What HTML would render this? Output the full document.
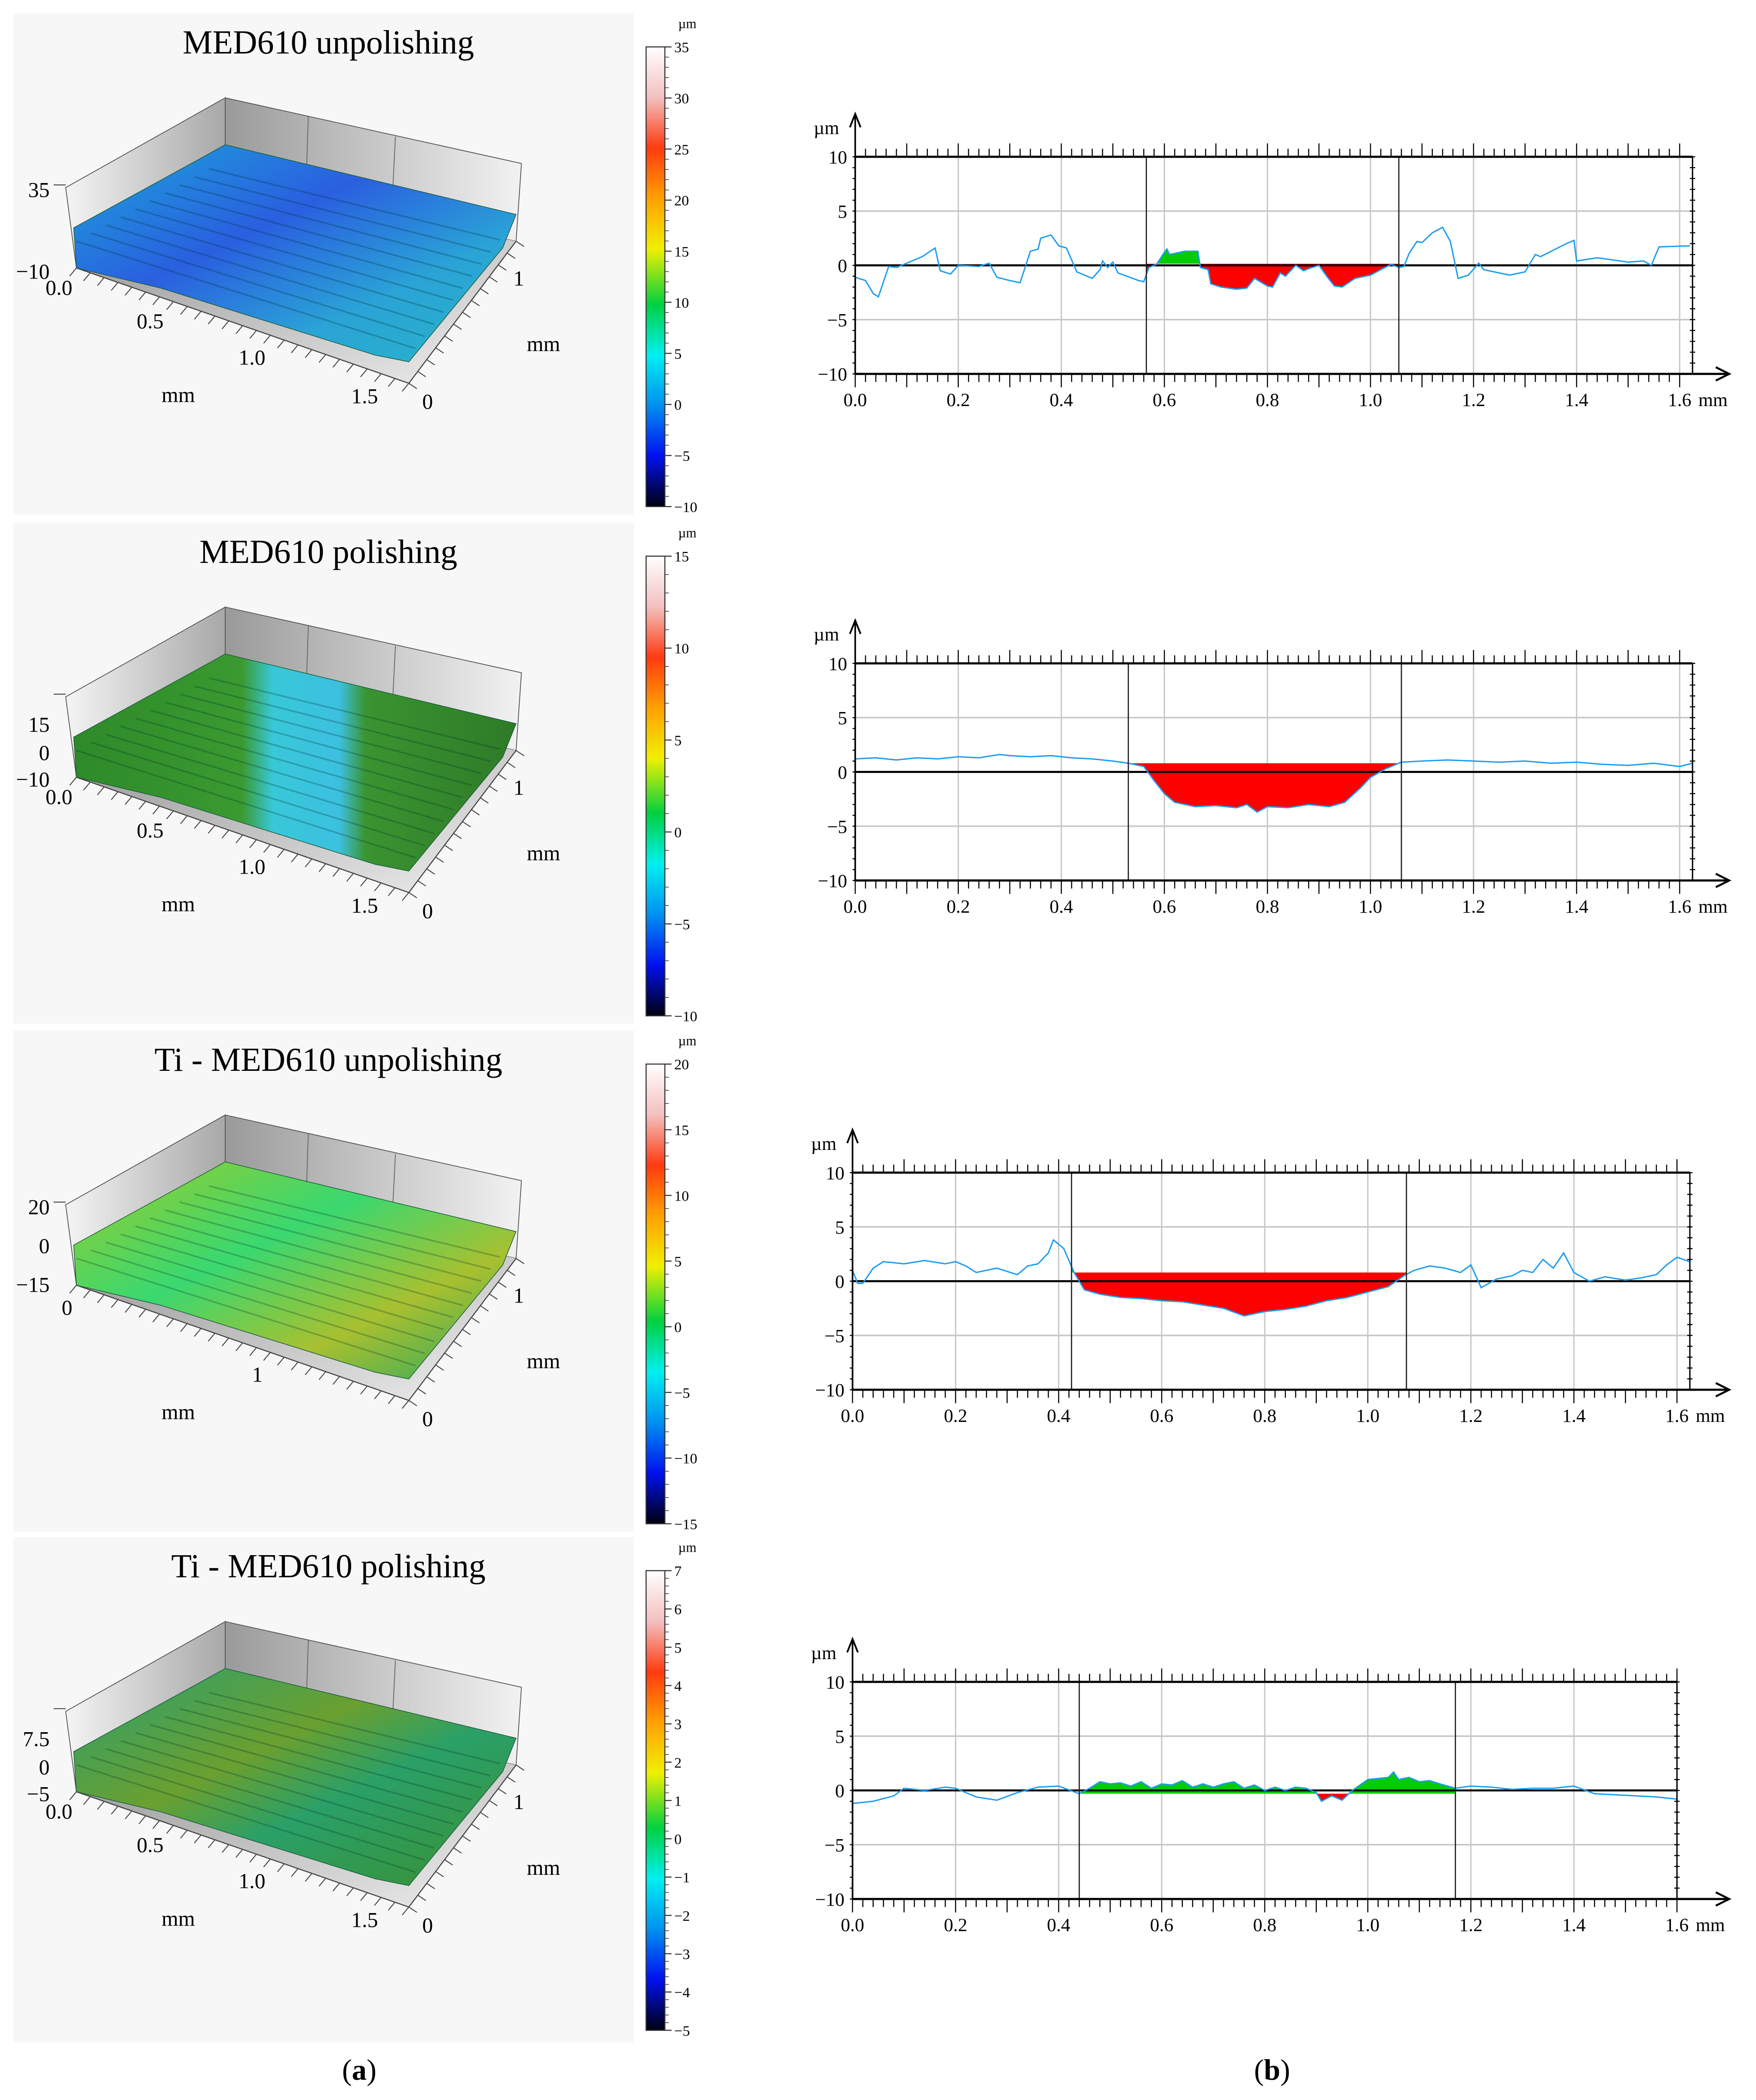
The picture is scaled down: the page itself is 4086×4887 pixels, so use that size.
<!DOCTYPE html>
<html><head><meta charset="utf-8"><style>
html,body{margin:0;padding:0;background:#fff}
svg{display:block}
text{font-family:"Liberation Serif",serif}
</style></head><body>
<svg id="fig" xmlns="http://www.w3.org/2000/svg" width="4086" height="4887" viewBox="0 0 1310 1567" preserveAspectRatio="none">
<defs>
<linearGradient id="wallL" x1="0" y1="0" x2="1" y2="0"><stop offset="0" stop-color="#f4f4f4"/><stop offset="1" stop-color="#a8a8a8"/></linearGradient>
<linearGradient id="wallB" x1="0" y1="0" x2="1" y2="0"><stop offset="0" stop-color="#9a9a9a"/><stop offset="1" stop-color="#f2f2f2"/></linearGradient>
<linearGradient id="floor" x1="0" y1="0" x2="1" y2="1"><stop offset="0" stop-color="#8a8a8a"/><stop offset="1" stop-color="#f0f0f0"/></linearGradient>
<linearGradient id="s1" x1="0" y1="0" x2="1" y2="1"><stop offset="0" stop-color="#1ba6d8"/><stop offset="0.4" stop-color="#2a5fe0"/><stop offset="0.7" stop-color="#2aa3d6"/><stop offset="1" stop-color="#27b6c8"/></linearGradient>
<linearGradient id="s2" x1="0" y1="0" x2="1" y2="0"><stop offset="0" stop-color="#2e8a2a"/><stop offset="0.38" stop-color="#3a9a30"/><stop offset="0.45" stop-color="#38c8d8"/><stop offset="0.6" stop-color="#3cc0e0"/><stop offset="0.66" stop-color="#3a9430"/><stop offset="1" stop-color="#2e7a28"/></linearGradient>
<linearGradient id="s3" x1="0" y1="0" x2="1" y2="1"><stop offset="0" stop-color="#9ccc2a"/><stop offset="0.4" stop-color="#3ad870"/><stop offset="0.7" stop-color="#a8c030"/><stop offset="1" stop-color="#2aa860"/></linearGradient>
<linearGradient id="s4" x1="0" y1="0" x2="1" y2="1"><stop offset="0" stop-color="#2aa070"/><stop offset="0.4" stop-color="#6aa030"/><stop offset="0.6" stop-color="#2aa068"/><stop offset="1" stop-color="#3a9030"/></linearGradient>
<linearGradient id="cb1" x1="0" y1="0" x2="0" y2="1"><stop offset="0" stop-color="#ffffff"/><stop offset="0.11" stop-color="#f3c0c0"/><stop offset="0.22" stop-color="#ff3a10"/><stop offset="0.33" stop-color="#ffa000"/><stop offset="0.44" stop-color="#f0f000"/><stop offset="0.56" stop-color="#00d040"/><stop offset="0.67" stop-color="#00f0f0"/><stop offset="0.78" stop-color="#0090f0"/><stop offset="0.89" stop-color="#0010f0"/><stop offset="1" stop-color="#000010"/></linearGradient>
</defs>
<g id="left"></g>
<g id="right"></g>
<text x="268" y="1552" font-size="22" text-anchor="middle">(<tspan font-weight="bold">a</tspan>)</text>
<text x="949" y="1552" font-size="22" text-anchor="middle">(<tspan font-weight="bold">b</tspan>)</text>
</svg>
<script>
const NS="http://www.w3.org/2000/svg";
function el(tag,attrs,parent,txt){const e=document.createElementNS(NS,tag);for(const k in attrs)e.setAttribute(k,attrs[k]);if(txt!==undefined)e.textContent=txt;parent.appendChild(e);return e;}

// ---------- Profile data (x in mm, z in µm) ----------
const prof1X=[0,0.02,0.035,0.045,0.055,0.065,0.08,0.1,0.13,0.155,0.165,0.185,0.2,0.24,0.26,0.275,0.3,0.32,0.34,0.355,0.36,0.38,0.395,0.41,0.43,0.45,0.46,0.475,0.48,0.49,0.5,0.51,0.55,0.56,0.57,0.585,0.6,0.605,0.61,0.64,0.665,0.67,0.685,0.69,0.71,0.74,0.76,0.775,0.8,0.81,0.825,0.835,0.855,0.87,0.88,0.9,0.915,0.93,0.945,0.97,1.0,1.04,1.055,1.065,1.075,1.09,1.1,1.12,1.14,1.155,1.17,1.19,1.21,1.22,1.27,1.3,1.32,1.33,1.38,1.395,1.4,1.44,1.47,1.5,1.53,1.545,1.56,1.62];
const prof1Z=[-1.1,-1.4,-2.6,-2.9,-1.5,-0.1,-0.2,0.2,0.8,1.6,-0.5,-0.8,0,-0.1,0.2,-1.1,-1.4,-1.6,1.3,1.5,2.5,2.8,1.8,1.6,-0.6,-1.0,-1.2,-0.4,0.4,-0.2,0.3,-0.7,-1.4,-1.5,-0.2,0.1,1.2,1.5,1.0,1.3,1.3,-0.2,-0.4,-1.7,-2.0,-2.2,-2.1,-1.2,-1.9,-2.0,-0.7,-1.0,0,-0.5,-0.3,0,-1.0,-1.9,-2.0,-1.2,-0.9,0.1,-0.2,-0.1,1.1,2.2,2.1,3.0,3.5,2.2,-1.2,-0.9,0.2,-0.4,-0.9,-0.6,1.0,0.8,2.0,2.3,0.4,0.7,0.5,0.3,0.4,0,1.7,1.8];
const prof2X=[0,0.04,0.08,0.12,0.16,0.2,0.24,0.28,0.3,0.34,0.38,0.42,0.46,0.5,0.53,0.56,0.58,0.6,0.62,0.66,0.7,0.74,0.76,0.78,0.8,0.84,0.88,0.92,0.95,0.98,1.0,1.03,1.06,1.1,1.15,1.2,1.25,1.3,1.35,1.4,1.45,1.5,1.55,1.6,1.625];
const prof2Z=[1.2,1.3,1.1,1.3,1.2,1.4,1.3,1.6,1.5,1.4,1.5,1.3,1.2,1.0,0.8,0.5,-0.8,-2.0,-2.8,-3.2,-3.1,-3.3,-3.0,-3.7,-3.2,-3.3,-3.0,-3.2,-2.8,-1.5,-0.5,0.3,0.9,1.0,1.1,1.0,0.9,1.0,0.8,0.9,0.7,0.6,0.8,0.5,0.8];
const prof3X=[0,0.01,0.02,0.04,0.06,0.1,0.14,0.18,0.2,0.22,0.24,0.28,0.32,0.34,0.36,0.38,0.39,0.41,0.43,0.45,0.48,0.52,0.56,0.6,0.64,0.68,0.72,0.76,0.8,0.84,0.88,0.92,0.96,1.0,1.04,1.07,1.09,1.12,1.15,1.18,1.2,1.22,1.25,1.28,1.3,1.32,1.34,1.36,1.38,1.4,1.43,1.46,1.5,1.53,1.56,1.58,1.6,1.625];
const prof3Z=[1.0,-0.2,-0.2,1.2,1.8,1.6,1.9,1.6,1.8,1.4,0.8,1.2,0.6,1.4,1.6,2.6,3.8,3.0,0.8,-0.8,-1.2,-1.5,-1.6,-1.8,-1.9,-2.2,-2.5,-3.2,-2.8,-2.6,-2.3,-1.8,-1.5,-1.0,-0.5,0.5,1.0,1.4,1.2,0.8,1.5,-0.6,0.2,0.5,1.0,0.8,2.0,1.2,2.6,0.8,0.0,0.4,0.1,0.3,0.6,1.5,2.2,1.8];
const prof4X=[0,0.04,0.08,0.1,0.14,0.18,0.2,0.24,0.28,0.32,0.36,0.4,0.44,0.46,0.48,0.5,0.52,0.54,0.56,0.58,0.6,0.62,0.64,0.66,0.68,0.7,0.72,0.74,0.76,0.78,0.8,0.82,0.84,0.86,0.88,0.9,0.91,0.93,0.95,0.97,1.0,1.02,1.04,1.05,1.06,1.08,1.1,1.12,1.14,1.17,1.2,1.24,1.28,1.32,1.36,1.4,1.44,1.48,1.52,1.56,1.6];
const prof4Z=[-1.2,-1.0,-0.5,0.2,0.0,0.3,0.2,-0.6,-0.9,-0.2,0.3,0.4,-0.3,0.2,0.8,0.6,0.7,0.4,0.8,0.2,0.6,0.5,0.9,0.3,0.6,0.3,0.6,0.8,0.2,0.5,0.0,0.3,0.0,0.3,0.2,-0.2,-1.0,-0.5,-0.9,0.0,1.0,1.1,1.2,1.7,1.0,1.2,0.8,0.9,0.6,0.2,0.4,0.3,0.1,0.2,0.2,0.4,-0.3,-0.4,-0.5,-0.6,-0.8];
const xTicks=["0.0","0.2","0.4","0.6","0.8","1.0","1.2","1.4","1.6"];
const yTicks=[10,5,0,-5,-10];

const charts=[
 {top:117,x0:638,xs:prof1X,zs:prof1Z,m:[0.565,1.055],ref:0.15,xend:1.625},
 {top:495,x0:638,xs:prof2X,zs:prof2Z,m:[0.53,1.06],ref:0.8,xend:1.625},
 {top:875,x0:636,xs:prof3X,zs:prof3Z,m:[0.425,1.075],ref:0.8,xend:1.625},
 {top:1255,x0:636,xs:prof4X,zs:prof4Z,m:[0.44,1.17],ref:-0.3,xend:1.6}
];
const R=document.getElementById('right');
charts.forEach((c,ci)=>{
 const g=el('g',{},R);
 
 
 const PX=384.4, H=162;
 const X=v=>c.x0+v*PX, Y=v=>c.top+(10-v)*H/20;
 // grid
 for(let i=1;i<=8;i++){el('line',{x1:X(i*0.2),x2:X(i*0.2),y1:Y(10),y2:Y(-10),stroke:'#c8c8c8','stroke-width':1},g);}
 [5,-5].forEach(v=>el('line',{x1:X(0),x2:X(c.xend),y1:Y(v),y2:Y(v),stroke:'#c8c8c8','stroke-width':1.2},g));
 // fills
 const id='clip'+ci;
 const cp=el('clipPath',{id:id},g);
 el('rect',{x:X(c.m[0]),y:Y(10),width:X(c.m[1])-X(c.m[0]),height:H},cp);
 let pts=c.xs.map((x,i)=>X(x)+','+Y(c.zs[i])).join(' ');
 const poly=X(c.xs[0])+','+Y(c.ref)+' '+pts+' '+X(c.xs[c.xs.length-1])+','+Y(c.ref);
 const ga=el('clipPath',{id:id+'a'},g);el('rect',{x:X(c.m[0]),y:Y(10),width:X(c.m[1])-X(c.m[0]),height:Y(c.ref)-Y(10)},ga);
 const gb=el('clipPath',{id:id+'b'},g);el('rect',{x:X(c.m[0]),y:Y(c.ref),width:X(c.m[1])-X(c.m[0]),height:Y(-10)-Y(c.ref)},gb);
 const fa=el('polygon',{points:poly,fill:'#00cc00','clip-path':'url(#'+id+'a)'},g);
 
 
 const fb=el('polygon',{points:poly,fill:'#ff0000','clip-path':'url(#'+id+'b)'},g);
 
 
 // zero line
 el('line',{x1:X(0),x2:X(c.xend),y1:Y(0),y2:Y(0),stroke:'#000','stroke-width':1.5},g);
 // profile line
 const pl=el('polyline',{points:pts,fill:'none',stroke:'#1a9cf0','stroke-width':1},g);
 
 
 // markers
 c.m.forEach(v=>{const l=el('line',{x1:X(v),x2:X(v),y1:Y(10),y2:Y(-10),stroke:'#222','stroke-width':0.9},g);
  
  });
 // frame
 el('line',{x1:X(0),x2:X(c.xend),y1:Y(10),y2:Y(10),stroke:'#000','stroke-width':1.6},g);
 el('line',{x1:X(c.xend),x2:X(c.xend),y1:Y(10),y2:Y(-10),stroke:'#000','stroke-width':1},g);
 el('line',{x1:X(0),x2:X(0),y1:Y(10)-30,y2:Y(-10),stroke:'#000','stroke-width':1.2},g);
 el('line',{x1:X(0),x2:1288,y1:Y(-10),y2:Y(-10),stroke:'#000','stroke-width':1.6},g);
 el('polyline',{points:(1280)+','+(Y(-10)-5)+' 1290,'+Y(-10)+' 1280,'+(Y(-10)+5),fill:'none',stroke:'#000','stroke-width':1.5},g);
 el('polyline',{points:(X(0)-4)+','+(Y(10)-22)+' '+X(0)+','+(Y(10)-32)+' '+(X(0)+4)+','+(Y(10)-22),fill:'none',stroke:'#000','stroke-width':1.3},g);
 // ticks
 for(let i=0;i<=80;i++){const v=i*0.02;if(v>c.xend)break;const L=(i%5==0)?10:6;
  el('line',{x1:X(v),x2:X(v),y1:Y(-10),y2:Y(-10)+L,stroke:'#000','stroke-width':0.8},g);
  el('line',{x1:X(v),x2:X(v),y1:Y(10),y2:Y(10)-L,stroke:'#000','stroke-width':0.8},g);}
 for(let v=-10;v<=10;v++){el('line',{x1:X(c.xend)-2,x2:X(c.xend)+2,y1:Y(v),y2:Y(v),stroke:'#000','stroke-width':0.8},g);
  el('line',{x1:X(0)-2,x2:X(0),y1:Y(v),y2:Y(v),stroke:'#000','stroke-width':0.8},g);}
 xTicks.forEach((t,i)=>el('text',{x:X(i*0.2),y:Y(-10)+24,'font-size':14,'text-anchor':'middle'},g,t));
 el('text',{x:X(1.6)+14,y:Y(-10)+24,'font-size':14},g,'mm');
 yTicks.forEach(v=>el('text',{x:X(0)-6,y:Y(v)+5,'font-size':14,'text-anchor':'end'},g,v<0?'−'+(-v):''+v));
 el('text',{x:X(0)-12,y:Y(10)-17,'font-size':14,'text-anchor':'end'},g,'µm');
});

// ---------- Left 3D panels ----------
const panels=[
 {top:10,title:'MED610 unpolishing',surf:'url(#s1)',cb:["35","30","25","20","15","10","5","0","−5","−10"],z:["35","−10"],xl:["0.0","0.5","1.0","1.5"]},
 {top:390,title:'MED610 polishing',surf:'url(#s2)',cb:["15","10","5","0","−5","−10"],z:["15","0","−10"],xl:["0.0","0.5","1.0","1.5"]},
 {top:769,title:'Ti - MED610 unpolishing',surf:'url(#s3)',cb:["20","15","10","5","0","−5","−10","−15"],z:["20","0","−15"],xl:["0","1"]},
 {top:1147,title:'Ti - MED610 polishing',surf:'url(#s4)',cb:["7","6","5","4","3","2","1","0","−1","−2","−3","−4","−5"],z:["7.5","0","−5"],xl:["0.0","0.5","1.0","1.5"]}
];
const L=document.getElementById('left');
panels.forEach((p,pi)=>{
 const g=el('g',{transform:'translate(0,'+(p.top-10)+')'},L);
 
 
 el('rect',{x:10,y:10,width:463,height:pi==3?377:374,fill:'#f7f7f7'},g);
 el('text',{x:245,y:40,'font-size':25,'text-anchor':'middle'},g,p.title);
 // walls
 el('polygon',{points:'49,140 168,73 168,135 57,200',fill:'url(#wallL)',stroke:'#555','stroke-width':0.6},g);
 el('polygon',{points:'168,73 389,122 385,180 168,135',fill:'url(#wallB)',stroke:'#555','stroke-width':0.6},g);
 el('polygon',{points:'57,200 168,135 385,180 305,286',fill:'url(#floor)'},g);
 el('line',{x1:230,y1:87,x2:228,y2:148,stroke:'#666','stroke-width':0.6},g);
 el('line',{x1:295,y1:102,x2:292,y2:161,stroke:'#666','stroke-width':0.6},g);
 // surface
 const s=el('polygon',{points:'55,170 150,118 168,108 385,160 375,185 305,270 280,265 200,240 120,215 57,200',fill:p.surf,stroke:'#1a5a3a','stroke-width':0.5},g);
 
 
 for(let k=0;k<10;k++){const t=k/10;
  el('line',{x1:57+t*110,y1:180-t*60,x2:310+t*70,y2:260-t*90,stroke:'rgba(0,40,40,0.25)','stroke-width':1.2},g);}
 // axes
 el('line',{x1:57,y1:200,x2:305,y2:286,stroke:'#444','stroke-width':0.8},g);
 el('line',{x1:305,y1:286,x2:385,y2:180,stroke:'#444','stroke-width':0.8},g);
 for(let k=0;k<=24;k++){const t=k/24;el('line',{x1:57+t*248,y1:200+t*86,x2:52+t*248,y2:206+t*86,stroke:'#444','stroke-width':0.7},g);}
 for(let k=0;k<=12;k++){const t=k/12;el('line',{x1:305+t*80,y1:286-t*106,x2:311+t*80,y2:290-t*106,stroke:'#444','stroke-width':0.7},g);}
 // labels
 const zy=p.z.length==2?[142,203]:[p.z.length==3?[pi==2?142:161,pi==2?171:182,pi==2?200:202]:[]][0];
 p.z.forEach((t,i)=>el('text',{x:37,y:zy[i]+5,'font-size':16,'text-anchor':'end'},g,t));
 el('line',{x1:40,y1:138,x2:49,y2:138,stroke:'#444','stroke-width':0.7},g);
 if(p.xl.length==4){[["0.0",44,220],["0.5",112,245],["1.0",188,272],["1.5",272,301]].forEach(a=>el('text',{x:a[1],y:a[2],'font-size':16,'text-anchor':'middle'},g,a[0]));}
 else {el('text',{x:50,y:222,'font-size':16,'text-anchor':'middle'},g,'0');el('text',{x:192,y:272,'font-size':16,'text-anchor':'middle'},g,'1');}
 el('text',{x:133,y:300,'font-size':16,'text-anchor':'middle'},g,'mm');
 el('text',{x:383,y:213,'font-size':16},g,'1');
 el('text',{x:393,y:262,'font-size':16},g,'mm');
 el('text',{x:315,y:305,'font-size':16},g,'0');
 // colorbar
 const cbTop=35, cbBot=378;
 const cb=el('rect',{x:482,y:cbTop,width:14,height:cbBot-cbTop,fill:'url(#cb1)',stroke:'#333','stroke-width':0.8},g);
 
 
 el('text',{x:506,y:21,'font-size':10},g,'µm');
 const n=p.cb.length;
 p.cb.forEach((t,i)=>{const y=cbTop+i*(cbBot-cbTop)/(n-1);
  el('line',{x1:496,x2:501,y1:y,y2:y,stroke:'#333','stroke-width':0.8},g);
  el('text',{x:503,y:y+4,'font-size':11},g,t);});
 for(let k=0;k<=(n-1)*5;k++){const y=cbTop+k*(cbBot-cbTop)/((n-1)*5);el('line',{x1:496,x2:499,y1:y,y2:y,stroke:'#333','stroke-width':0.5},g);}
});
</script>
</body></html>
